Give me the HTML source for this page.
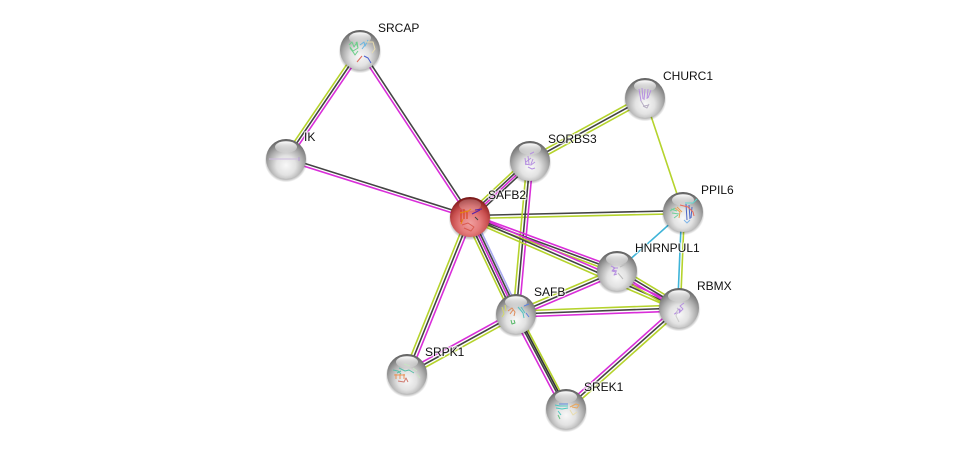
<!DOCTYPE html>
<html><head><meta charset="utf-8"><style>
html,body{margin:0;padding:0;background:#fff}
svg{display:block}
text{font-family:"Liberation Sans",sans-serif;font-size:12px;fill:#111;stroke:#fff;stroke-width:2.4px;stroke-opacity:.7;paint-order:stroke;stroke-linejoin:round}
.g{stroke:#b5d32c}.d{stroke:#444}.m{stroke:#d92ed9}.b{stroke:#3fb4d8}.v{stroke:#a8a8f0}
line{stroke-width:1.6;fill:none}
.s{fill:none;stroke-width:1;stroke-linejoin:round}
</style></head><body>
<svg width="976" height="454" viewBox="0 0 976 454" xmlns="http://www.w3.org/2000/svg">
<defs>
<radialGradient id="w" cx="50%" cy="66%" r="64%"><stop offset="0" stop-color="#f8f8f8"/><stop offset=".38" stop-color="#e2e2e2"/><stop offset=".68" stop-color="#adadad"/><stop offset=".9" stop-color="#7e7e7e"/><stop offset="1" stop-color="#626262"/></radialGradient>
<radialGradient id="r" cx="50%" cy="66%" r="64%"><stop offset="0" stop-color="#f0a0a0"/><stop offset=".4" stop-color="#e47a7a"/><stop offset=".7" stop-color="#c84e4e"/><stop offset=".9" stop-color="#9c2c2c"/><stop offset="1" stop-color="#781818"/></radialGradient>
<linearGradient id="h" x1="0" y1="0" x2="0" y2="1"><stop offset="0" stop-color="#fff" stop-opacity="1"/><stop offset="1" stop-color="#fff" stop-opacity=".1"/></linearGradient>
<radialGradient id="sh" cx="50%" cy="50%" r="50%"><stop offset=".82" stop-color="#000" stop-opacity=".35"/><stop offset="1" stop-color="#000" stop-opacity="0"/></radialGradient>
<g id="n"><circle cy="1.8" r="21.5" fill="url(#sh)"/><circle r="20" fill="url(#w)"/><ellipse cy="-12" rx="11" ry="5.8" fill="url(#h)"/></g>
<g id="nr"><circle cy="1.8" r="21.5" fill="url(#sh)"/><circle r="20" fill="url(#r)"/><ellipse cy="-12" rx="11" ry="5.8" fill="#fff" fill-opacity=".22"/></g>
</defs>

<!-- SRCAP-IK -->
<g transform="translate(360 50) rotate(124.2)"><line x2="131.7" y1="2.8" y2="2.8" class="g"/><line x2="131.7" class="d"/><line x2="131.7" y1="-2.8" y2="-2.8" class="m"/></g>
<!-- IK-SAFB2 -->
<g transform="translate(286 159) rotate(17.5)"><line x2="193" y1="-1.4" y2="-1.4" class="d"/><line x2="193" y1="1.4" y2="1.4" class="m"/></g>
<!-- SRCAP-SAFB2 -->
<g transform="translate(360 50) rotate(56.6)"><line x2="200" y1="1.4" y2="1.4" class="m"/><line x2="200" y1="-1.4" y2="-1.4" class="d"/></g>
<!-- SAFB2-SORBS3 -->
<g transform="translate(470 217) rotate(-43)"><line x2="82" y1="-4" y2="-4" class="g"/><line x2="82" y1="-1.4" y2="-1.4" class="d"/><line x2="82" y1=".8" y2=".8" class="m"/><line x2="82" y1="3" y2="3" class="d"/></g>
<!-- SORBS3-CHURC1 -->
<g transform="translate(530 161) rotate(-28.7)"><line x2="131" y1="-3" y2="-3" class="g"/><line x2="131" class="d"/><line x2="131" y1="3" y2="3" class="g"/></g>
<!-- SAFB2-PPIL6 -->
<g transform="translate(470 217) rotate(-1.3)"><line x2="213" y1="-1.5" y2="-1.5" class="d"/><line x2="213" y1="1.5" y2="1.5" class="g"/></g>
<!-- SORBS3-SAFB -->
<g transform="translate(530 161) rotate(95.2)"><line x2="153.6" y1="3" y2="3" class="g"/><line x2="153.6" class="d"/><line x2="153.6" y1="-3" y2="-3" class="m"/></g>
<!-- CHURC1-PPIL6 -->
<line x1="645" y1="98" x2="683" y2="212" class="g"/>
<!-- PPIL6-HNRNPUL1 -->
<line x1="683" y1="212" x2="617" y2="271" class="b"/>
<!-- PPIL6-RBMX -->
<g transform="translate(683 212) rotate(92.4)"><line x2="96" y1="1.4" y2="1.4" class="b"/><line x2="96" y1="-1.4" y2="-1.4" class="g"/></g>
<!-- SAFB2-HNRNPUL1 -->
<g transform="translate(470 217) rotate(20.2)"><line x2="156.6" y1="-3" y2="-3" class="m"/><line x2="156.6" y1="-.4" y2="-.4" class="d"/><line x2="156.6" y1="2.2" y2="2.2" class="g"/></g>
<!-- SAFB2-RBMX -->
<g transform="translate(470 217) rotate(23.5)"><line x2="228" y1="-3" y2="-3" class="m"/><line x2="228" class="d"/><line x2="228" y1="3" y2="3" class="g"/></g>
<!-- HNRNPUL1-RBMX -->
<g transform="translate(617 271) rotate(30.8)"><line x2="72" y1="-4.2" y2="-4.2" class="g"/><line x2="72" y1="-1.4" y2="-1.4" class="d"/><line x2="72" y1="1.4" y2="1.4" class="m"/><line x2="72" y1="4.2" y2="4.2" class="g"/></g>
<!-- SAFB2-SAFB -->
<g transform="translate(470 217) rotate(64.6)"><line x2="107" y1="5" y2="5" class="g"/><line x2="107" y1="2.4" y2="2.4" class="d"/><line x2="107" y1="0" y2="0" class="m"/><line x2="107" y1="-2" y2="-2" class="d"/><line x2="107" y1="-4" y2="-4" class="v"/></g>
<!-- SAFB2-SRPK1 -->
<g transform="translate(470 217) rotate(111.9)"><line x2="169" y1="3" y2="3" class="g"/><line x2="169" class="d"/><line x2="169" y1="-3" y2="-3" class="m"/></g>
<!-- SAFB-HNRNPUL1 -->
<g transform="translate(516 314) rotate(-23)"><line x2="110" y1="-3" y2="-3" class="g"/><line x2="110" class="d"/><line x2="110" y1="3" y2="3" class="m"/></g>
<!-- SAFB-RBMX -->
<g transform="translate(516 314) rotate(-2.1)"><line x2="163" y1="-3" y2="-3" class="g"/><line x2="163" class="d"/><line x2="163" y1="3" y2="3" class="m"/></g>
<!-- SAFB-SRPK1 -->
<g transform="translate(516 314) rotate(151.2)"><line x2="124" y1="3" y2="3" class="m"/><line x2="124" class="d"/><line x2="124" y1="-3" y2="-3" class="g"/></g>
<!-- SAFB-SREK1 -->
<g transform="translate(516 314) rotate(62.2)"><line x2="107" y1="3.6" y2="3.6" class="m"/><line x2="107" y1=".6" y2=".6" class="d"/><line x2="107" y1="-1.2" y2="-1.2" stroke="#333"/><line x2="107" y1="-3" y2="-3" class="g"/></g>
<!-- RBMX-SREK1 -->
<g transform="translate(679 308) rotate(138.2)"><line x2="151.6" y1="3" y2="3" class="m"/><line x2="151.6" class="d"/><line x2="151.6" y1="-3" y2="-3" class="g"/></g>

<!-- nodes -->
<g transform="translate(360 50)"><use href="#n"/>
<path class="s" stroke="#6ccf8a" stroke-width="1.3" d="M-11-5l3-3 2 5 3-5 1 6-5 3-3-4 5 8 3-4M-10-2l3 4M-4-8l2 6"/><path class="s" stroke="#6ab6e0" d="M0-5l4-3 1 4 3-6M2-1l3-4"/><path class="s" stroke="#e06a5a" stroke-width="1.8" d="M-3 12l5-6"/><path class="s" stroke="#4a5fd0" d="M4 6l4 2 3 5"/><path class="s" stroke="#e8dcae" d="M6-8l7 0 2 7-3 4"/></g>
<g transform="translate(286 159)"><use href="#n"/><path class="s" stroke="#cdbbdf" d="M-17 0h30"/><path class="s" stroke="#b49cd0" stroke-width="1.4" d="M13-2v4"/></g>
<g transform="translate(470 217)"><use href="#nr"/>
<path class="s" stroke="#d93a10" stroke-width="1.5" d="M-9-7v12M-6-8v10M-3-6v8"/><path class="s" stroke="#e58a10" stroke-width="1.2" d="M-10-4l8-2M1-8l-4 3M-7 2l-2 5"/><path class="s" stroke="#5522aa" d="M5-7l7-1M2-3l8-4"/><path class="s" stroke="#444" stroke-width="1.5" d="M5 0l3 3"/><path class="s" stroke="#d95b50" d="M-8 8l6-2 6 4-3 4-7-3"/></g>
<g transform="translate(530 161)"><use href="#n"/><path class="s" stroke="#b690e0" d="M-5-3l1 7M-2-5l1 8M-5 3l6 1 4-3M1 3l2-5M-2 6l4 2 3-1M0-7l4-2M-4 1l5-4"/></g>
<g transform="translate(645 98)"><use href="#n"/><path class="s" stroke="#b690e0" stroke-width="1.2" d="M-6-9l2 12M-3-10l1 11M0-9l-1 11M3-9l-1 10M6-8l-3 8"/><path class="s" stroke="#b8b0c4" d="M-4 3l3 5 5-1M-2 8l4 2 2-4"/></g>
<g transform="translate(683 212)"><use href="#n"/>
<path class="s" stroke="#4a66c8" stroke-width="2" d="M3-8l1 16M6-7l1 14M9-5l-1 11"/><path class="s" stroke="#e9a050" stroke-width="1.6" d="M-8-4l5 4-1 6M-6-5l5 5"/><path class="s" stroke="#6fd098" stroke-width="1.2" d="M-12-3l6 2M-11 1l7 1M-9 6l4-3M-13-1l5-3"/><path class="s" stroke="#e8685a" d="M-3-7l8 2 5 5 1 4"/><path class="s" stroke="#5fd8cf" stroke-width="1.2" d="M2-9l8 0 4-4"/><path class="s" stroke="#7eb4e8" d="M1 8l3 3 3-3"/></g>
<g transform="translate(617 271)"><use href="#n"/><path class="s" stroke="#b690e0" stroke-width="1.4" d="M-6-5l4 2-3 3 4 1-2 3 3-1M-4-3l5 0M-5-1l5 1"/><path class="s" stroke="#bbb" d="M1 2l5 6M3-4l6-3"/></g>
<g transform="translate(679 308)"><use href="#n"/><path class="s" stroke="#b690e0" stroke-width="1.4" d="M-4 6l3-4 2-1-1 4 4-4-3-3 4-3M-5 6l4-1M-2 0l4 3"/><path class="s" stroke="#ccc" d="M-1 0l-2 8 3 6"/></g>
<g transform="translate(516 314)"><use href="#n"/>
<path class="s" stroke="#d2d86a" stroke-width="1.3" d="M-14-7l2 7-2 3M-11-9l1 6"/><path class="s" stroke="#e08a58" stroke-width="1.3" d="M-8-3l4-3 3 4-1 4M-6 0l3-4"/><path class="s" stroke="#55c2c0" stroke-width="1.3" d="M2-7l5 6 1 5M5-7l4 6"/><path class="s" stroke="#5a80e0" stroke-width="1.2" d="M8-8l5-2M10-1l3 4"/><path class="s" stroke="#57b868" stroke-width="1.3" d="M-5 6l1 4 3-1-1-3"/></g>
<g transform="translate(407 374)"><use href="#n"/>
<path class="s" stroke="#58c0a8" stroke-width="1.2" d="M-14-4l5 1 3 3M-8-6l6 3 4-1 5 3M-10-1l4-2"/><path class="s" stroke="#e89258" stroke-width="1.3" d="M-13 1h11M-11 0v5M-7 0v5M-3 0v5"/><path class="s" stroke="#d07a70" d="M-9 7l6 1 2-4 2 4"/><path class="s" stroke="#c8e4c4" d="M-3-10l6 2M6-6l4 3M10 0l3 4"/></g>
<g transform="translate(566 409)"><use href="#n"/>
<path class="s" stroke="#4cc8c0" stroke-width="1.3" d="M-11-4l5 1 8 0M-10-1l6 1 6-1M-8 2l3 4"/><path class="s" stroke="#5a8ae0" d="M-7-5h9"/><path class="s" stroke="#e8a860" stroke-width="1.2" d="M4-2l6-3 3 1-2 3-5-1"/><path class="s" stroke="#e8dcae" d="M4 1l3 5 4-3"/><path class="s" stroke="#66c080" d="M-8 6l2 4"/></g>

<!-- labels -->
<text x="378" y="32">SRCAP</text>
<text x="304" y="141">IK</text>
<text x="663" y="80">CHURC1</text>
<text x="548" y="143">SORBS3</text>
<text x="488" y="199">SAFB2</text>
<text x="701" y="194">PPIL6</text>
<text x="635" y="252">HNRNPUL1</text>
<text x="697" y="290">RBMX</text>
<text x="534" y="296">SAFB</text>
<text x="425" y="356">SRPK1</text>
<text x="584" y="391">SREK1</text>
</svg>
</body></html>
